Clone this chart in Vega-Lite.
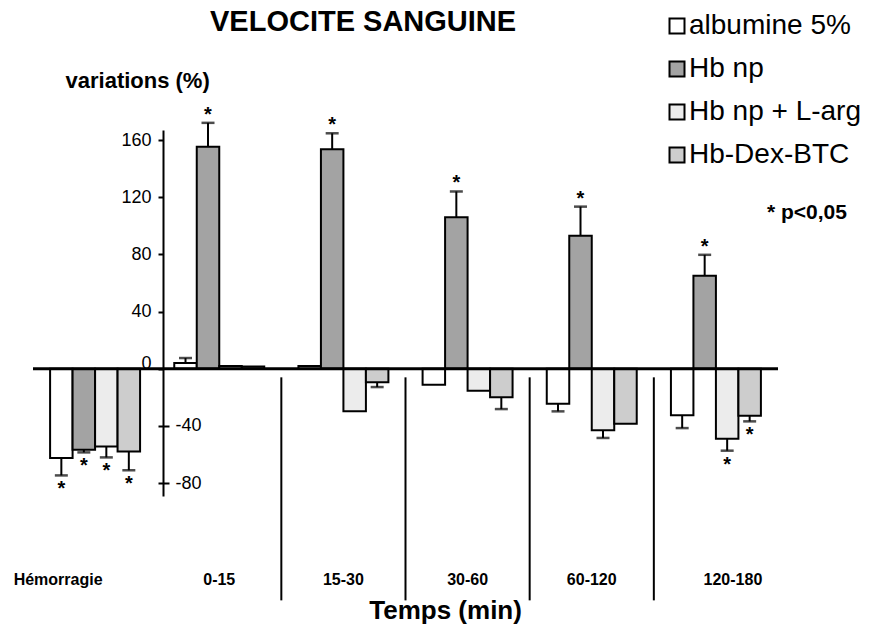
{
  "$schema": "https://vega.github.io/schema/vega-lite/v6.json",
  "autosize": {"type": "none"},
  "width": 745,
  "height": 366,
  "padding": {"left": 33, "top": 130, "right": 99, "bottom": 136},
  "background": "white",
  "config": {"view": {"stroke": null}, "font": "Liberation Sans", "axis": {"grid": false}},
  "title": {"text": "VELOCITE SANGUINE", "anchor": "start", "frame": "group", "dx": 177, "dy": 48, "fontSize": 29, "fontWeight": "bold", "font": "Liberation Sans", "color": "black", "baseline": "alphabetic", "offset": 0},
  "datasets": {
    "bars": [
      {"period": "Hémorragie", "group": "albumine 5%", "value": -62.4, "err": -74.6, "sig": true},
      {"period": "Hémorragie", "group": "Hb np", "value": -56.6, "err": -58.5, "sig": true},
      {"period": "Hémorragie", "group": "Hb np + L-arg", "value": -54.3, "err": -62, "sig": true},
      {"period": "Hémorragie", "group": "Hb-Dex-BTC", "value": -57.8, "err": -71, "sig": true},
      {"period": "0-15", "group": "albumine 5%", "value": 4, "err": 7.5, "sig": false},
      {"period": "0-15", "group": "Hb np", "value": 155.3, "err": 172, "sig": true},
      {"period": "0-15", "group": "Hb np + L-arg", "value": 2, "err": null, "sig": false},
      {"period": "0-15", "group": "Hb-Dex-BTC", "value": 1.5, "err": null, "sig": false},
      {"period": "15-30", "group": "albumine 5%", "value": 2, "err": null, "sig": false},
      {"period": "15-30", "group": "Hb np", "value": 153.5, "err": 164.7, "sig": true},
      {"period": "15-30", "group": "Hb np + L-arg", "value": -29.8, "err": null, "sig": false},
      {"period": "15-30", "group": "Hb-Dex-BTC", "value": -9.5, "err": -12.8, "sig": false},
      {"period": "30-60", "group": "albumine 5%", "value": -11.2, "err": null, "sig": false},
      {"period": "30-60", "group": "Hb np", "value": 106, "err": 124, "sig": true},
      {"period": "30-60", "group": "Hb np + L-arg", "value": -15.4, "err": null, "sig": false},
      {"period": "30-60", "group": "Hb-Dex-BTC", "value": -20, "err": -28.2, "sig": false},
      {"period": "60-120", "group": "albumine 5%", "value": -24.5, "err": -29.8, "sig": false},
      {"period": "60-120", "group": "Hb np", "value": 93, "err": 113.4, "sig": true},
      {"period": "60-120", "group": "Hb np + L-arg", "value": -43, "err": -48.4, "sig": false},
      {"period": "60-120", "group": "Hb-Dex-BTC", "value": -38.5, "err": null, "sig": false},
      {"period": "120-180", "group": "albumine 5%", "value": -32.6, "err": -41.5, "sig": false},
      {"period": "120-180", "group": "Hb np", "value": 65, "err": 79.7, "sig": true},
      {"period": "120-180", "group": "Hb np + L-arg", "value": -48.9, "err": -57.3, "sig": true},
      {"period": "120-180", "group": "Hb-Dex-BTC", "value": -32.8, "err": -36.8, "sig": true}
    ],
    "dividers": [
      {"period": "15-30"},
      {"period": "30-60"},
      {"period": "60-120"},
      {"period": "120-180"}
    ],
    "labels": [
      {"period": "Hémorragie"},
      {"period": "0-15"},
      {"period": "15-30"},
      {"period": "30-60"},
      {"period": "60-120"},
      {"period": "120-180"}
    ]
  },
  "resolve": {"axis": {"y": "independent"}},
  "layer": [
    {
      "data": {"name": "bars"},
      "mark": {"type": "bar", "stroke": "black", "strokeWidth": 2},
      "encoding": {
        "x": {
          "field": "period", "type": "nominal",
          "sort": ["Hémorragie", "0-15", "15-30", "30-60", "60-120", "120-180"],
          "scale": {"domain": ["Hémorragie", "0-15", "15-30", "30-60", "60-120", "120-180"], "paddingInner": 0, "paddingOuter": 0},
          "axis": null
        },
        "xOffset": {
          "field": "group", "type": "nominal",
          "sort": ["albumine 5%", "Hb np", "Hb np + L-arg", "Hb-Dex-BTC"],
          "scale": {"paddingInner": 0, "paddingOuter": 0.76}
        },
        "y": {
          "field": "value", "type": "quantitative",
          "scale": {"domain": [-89, 167], "nice": false, "zero": false},
          "axis": {
            "orient": "left", "offset": -130, "values": [-80, -40, 0, 40, 80, 120, 160],
            "labelExpr": "datum.value < 0 ? '' : datum.label",
            "labelBaseline": {"condition": {"test": "datum.value === 0", "value": "alphabetic"}, "value": "middle"},
            "domain": true, "domainColor": "black", "domainWidth": 2,
            "ticks": true, "tickSize": 5, "tickWidth": 2, "tickColor": "black",
            "labelFontSize": 18, "labelColor": "black", "labelPadding": 7,
            "title": "variations (%)", "titleFontSize": 22, "titleFontWeight": "bold", "titleColor": "black",
            "titleAngle": 0, "titleAlign": "left", "titleBaseline": "alphabetic", "titleX": -98, "titleY": -43
          }
        },
        "fill": {
          "field": "group", "type": "nominal",
          "scale": {"domain": ["albumine 5%", "Hb np", "Hb np + L-arg", "Hb-Dex-BTC"], "range": ["#ffffff", "#a3a3a3", "#ececec", "#cdcdcd"]},
          "legend": {
            "orient": "none", "legendX": 630, "legendY": -118, "title": null,
            "symbolType": "square", "symbolSize": 225, "symbolStrokeColor": "black", "symbolStrokeWidth": 2,
            "labelFontSize": 28, "labelFont": "Liberation Sans", "labelColor": "black", "labelOffset": -2,
            "rowPadding": 15, "padding": 0, "labelLimit": 300
          }
        }
      }
    },
    {
      "data": {"name": "bars"},
      "transform": [{"filter": "isValid(datum.err)"}],
      "mark": {"type": "rule", "strokeWidth": 2, "color": "black"},
      "encoding": {
        "x": {"field": "period", "type": "nominal", "sort": ["Hémorragie", "0-15", "15-30", "30-60", "60-120", "120-180"], "axis": null},
        "xOffset": {"field": "group", "type": "nominal", "sort": ["albumine 5%", "Hb np", "Hb np + L-arg", "Hb-Dex-BTC"]},
        "y": {"field": "value", "type": "quantitative", "axis": null},
        "y2": {"field": "err"}
      }
    },
    {
      "data": {"name": "bars"},
      "transform": [{"filter": "isValid(datum.err)"}],
      "mark": {"type": "tick", "thickness": 2.5, "size": 13, "color": "black", "orient": "horizontal"},
      "encoding": {
        "x": {"field": "period", "type": "nominal", "sort": ["Hémorragie", "0-15", "15-30", "30-60", "60-120", "120-180"], "axis": null},
        "xOffset": {"field": "group", "type": "nominal", "sort": ["albumine 5%", "Hb np", "Hb np + L-arg", "Hb-Dex-BTC"]},
        "y": {"field": "err", "type": "quantitative", "axis": null}
      }
    },
    {
      "data": {"name": "bars"},
      "transform": [{"filter": "datum.sig && datum.err > 0"}],
      "mark": {"type": "text", "text": "*", "fontSize": 20, "fontWeight": "bold", "baseline": "alphabetic", "dy": -2, "color": "black"},
      "encoding": {
        "x": {"field": "period", "type": "nominal", "sort": ["Hémorragie", "0-15", "15-30", "30-60", "60-120", "120-180"], "axis": null},
        "xOffset": {"field": "group", "type": "nominal", "sort": ["albumine 5%", "Hb np", "Hb np + L-arg", "Hb-Dex-BTC"]},
        "y": {"field": "err", "type": "quantitative", "axis": null}
      }
    },
    {
      "data": {"name": "bars"},
      "transform": [{"filter": "datum.sig && datum.err < 0"}],
      "mark": {"type": "text", "text": "*", "fontSize": 20, "fontWeight": "bold", "baseline": "alphabetic", "dy": 20, "color": "black"},
      "encoding": {
        "x": {"field": "period", "type": "nominal", "sort": ["Hémorragie", "0-15", "15-30", "30-60", "60-120", "120-180"], "axis": null},
        "xOffset": {"field": "group", "type": "nominal", "sort": ["albumine 5%", "Hb np", "Hb np + L-arg", "Hb-Dex-BTC"]},
        "y": {"field": "err", "type": "quantitative", "axis": null}
      }
    },
    {
      "data": {"name": "dividers"},
      "mark": {"type": "rule", "strokeWidth": 2, "color": "black"},
      "encoding": {
        "x": {"field": "period", "type": "nominal", "sort": ["Hémorragie", "0-15", "15-30", "30-60", "60-120", "120-180"], "bandPosition": 0, "axis": null},
        "y": {"datum": -6, "type": "quantitative", "axis": null},
        "y2": {"datum": -162}
      }
    },
    {
      "data": {"name": "labels"},
      "transform": [{"filter": "datum.period !== 'Hémorragie' && datum.period !== '120-180'"}],
      "mark": {"type": "text", "align": "center", "baseline": "alphabetic", "fontSize": 16, "fontWeight": "bold", "color": "black"},
      "encoding": {
        "x": {"field": "period", "type": "nominal", "sort": ["Hémorragie", "0-15", "15-30", "30-60", "60-120", "120-180"], "axis": null},
        "y": {"datum": -151.6, "type": "quantitative", "axis": null},
        "text": {"field": "period"}
      }
    },
    {
      "data": {"name": "labels"},
      "transform": [{"filter": "datum.period === 'Hémorragie'"}],
      "mark": {"type": "text", "align": "center", "baseline": "alphabetic", "fontSize": 16, "fontWeight": "bold", "color": "black", "dx": -37},
      "encoding": {
        "x": {"field": "period", "type": "nominal", "sort": ["Hémorragie", "0-15", "15-30", "30-60", "60-120", "120-180"], "axis": null},
        "y": {"datum": -151.6, "type": "quantitative", "axis": null},
        "text": {"field": "period"}
      }
    },
    {
      "data": {"name": "labels"},
      "transform": [{"filter": "datum.period === '120-180'"}],
      "mark": {"type": "text", "align": "center", "baseline": "alphabetic", "fontSize": 16, "fontWeight": "bold", "color": "black", "dx": 17},
      "encoding": {
        "x": {"field": "period", "type": "nominal", "sort": ["Hémorragie", "0-15", "15-30", "30-60", "60-120", "120-180"], "axis": null},
        "y": {"datum": -151.6, "type": "quantitative", "axis": null},
        "text": {"field": "period"}
      }
    },
    {
      "data": {"values": [{"note": "Temps (min)"}]},
      "mark": {"type": "text", "align": "center", "baseline": "alphabetic", "fontSize": 26, "fontWeight": "bold", "dx": -22, "color": "black"},
      "encoding": {
        "x": {"datum": "30-60", "type": "nominal", "axis": null},
        "y": {"datum": -174.7, "type": "quantitative", "axis": null},
        "text": {"field": "note"}
      }
    },
    {
      "data": {"values": [{"note": "* p<0,05"}]},
      "mark": {"type": "text", "align": "left", "baseline": "alphabetic", "fontSize": 21, "fontWeight": "bold", "dx": 51, "color": "black"},
      "encoding": {
        "x": {"datum": "120-180", "type": "nominal", "axis": null},
        "y": {"datum": 105, "type": "quantitative", "axis": null},
        "text": {"field": "note"}
      }
    },
    {
      "data": {"values": [{"note": "zero"}]},
      "mark": {"type": "rule", "strokeWidth": 3, "color": "black"},
      "encoding": {
        "y": {
          "datum": 0, "type": "quantitative",
          "axis": {
            "orient": "right", "offset": -615, "values": [-80, -40],
            "labelExpr": "'' + datum.value",
            "domain": false, "ticks": true, "tickSize": 6, "tickWidth": 2, "tickColor": "black",
            "labelFontSize": 18, "labelColor": "black", "labelPadding": 6, "title": null
          }
        }
      }
    }
  ]
}
